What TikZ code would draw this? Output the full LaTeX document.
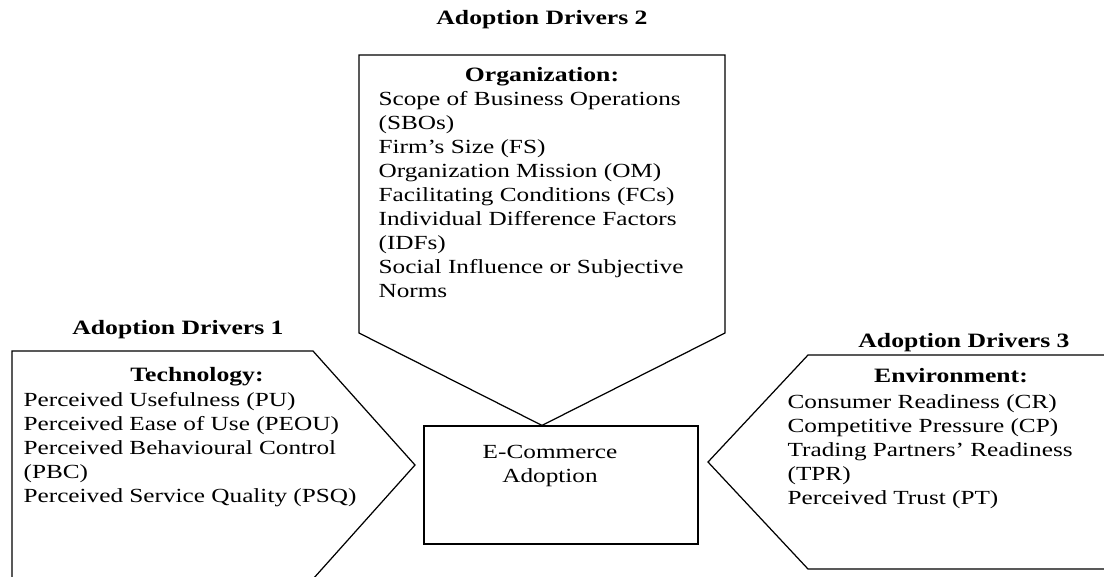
\documentclass[tikz,border=0pt]{standalone}
\usepackage{fontspec}
\setmainfont{Liberation Serif}[FakeStretch=1.26]
\begin{document}
\begin{tikzpicture}[x=0.02cm, y=-0.02cm, line width=0.7pt]\tikzstyle{every node}=[font=\fontsize{11.4}{13.66}\selectfont, inner sep=0pt]
\tikzstyle{drivertitle}=[font=\fontsize{11.6}{13.66}\selectfont\bfseries, anchor=base]
\tikzstyle{factorlist}=[align=left, anchor=north west]
\useasboundingbox (0,0) rectangle (1104,576);
\clip (0,0) rectangle (1104,576);
%%%%%%%%%%%%%
\node[drivertitle] (title2) at (542,24) {Adoption Drivers 2};
\node[drivertitle] (title1) at (178,334) {Adoption Drivers 1};
\node[drivertitle] (title3) at (964,347) {Adoption Drivers 3};
%%%%%%%%%%%%%
\node[drivertitle] (orghead) at (542,81.7) {Organization:};
\node[factorlist] (orglist) at (378,91) {Scope of Business Operations\\(SBOs)\\Firm’s Size (FS)\\Organization Mission (OM)\\Facilitating Conditions (FCs)\\Individual Difference Factors\\(IDFs)\\Social Influence or Subjective\\Norms};
\node[drivertitle] (techhead) at (197,381.7) {Technology:};
\node[factorlist] (techlist) at (23,391.7) {Perceived Usefulness (PU)\\Perceived Ease of Use (PEOU)\\Perceived Behavioural Control\\(PBC)\\Perceived Service Quality (PSQ)};
\node[drivertitle] (envhead) at (951,382.7) {Environment:};
\node[factorlist] (envlist) at (787,393.7) {Consumer Readiness (CR)\\Competitive Pressure (CP)\\Trading Partners’ Readiness\\(TPR)\\Perceived Trust (PT)};
%%%%%%%%%%%%%
\node[draw, minimum width=5.48cm, minimum height=2.36cm] (ecom) at (561,485) {};
\node[align=center, anchor=north] (ecomtext) at (550,445) {E-Commerce\\Adoption};
%%%%%%%%%%%%%
\draw (359,55) -- (725,55) -- (725,333) -- (ecom.north -| 542,0) -- (359,333) -- cycle;
\draw (12,590) -- (12,351) -- (313,351) -- (415,465) -- (313,579) -- (12,579);
\draw (1110,355) -- (808,355) -- (708,462) -- (808,569) -- (1110,569);
\end{tikzpicture}
\end{document}
